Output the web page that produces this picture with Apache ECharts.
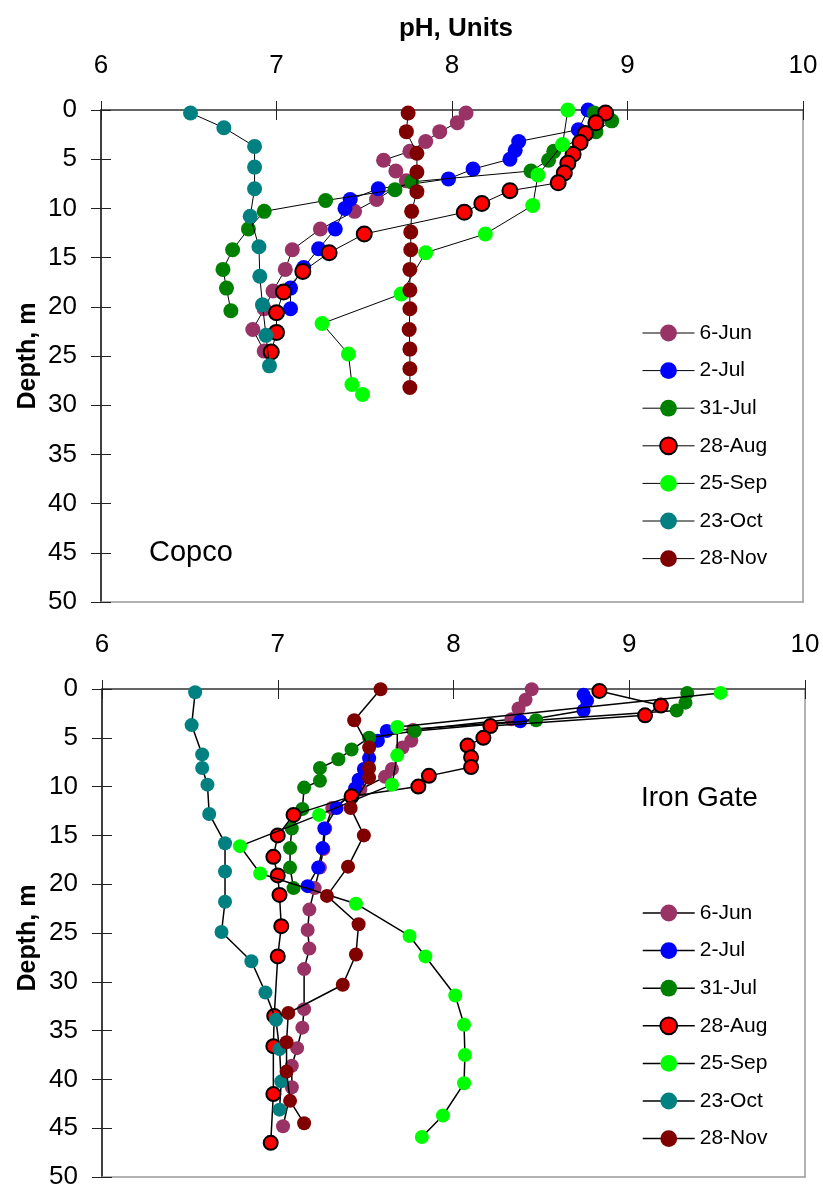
<!DOCTYPE html>
<html>
<head>
<meta charset="utf-8">
<script src="https://cdn.jsdelivr.net/npm/echarts@6/dist/echarts.min.js"></script>
<style>
html,body{margin:0;padding:0;background:#fff;}
#chart{width:823px;height:1190px;}
</style>
</head>
<body>
<div id="chart"></div>
<script>
// ---------- DATA ----------
const seriesNames = ['6-Jun','2-Jul','31-Jul','28-Aug','25-Sep','23-Oct','28-Nov'];
const xTicks = [6,7,8,9,10];
const yTicks = [0,5,10,15,20,25,30,35,40,45,50];

// Copco
const copcoJunDepth = [0.3,1.3,2.2,3.2,4.2,5.1,6.2,7.2,9.1,10.3,12.1,14.2,16.2,18.4,20.2,22.3,24.5];
const copcoJunPH    = [8.08,8.03,7.93,7.85,7.76,7.61,7.68,7.74,7.57,7.445,7.25,7.09,7.05,6.98,6.93,6.865,6.93];
const copcoJul2Depth = [0,2.0,3.2,4.1,5.0,6.0,7.0,8.0,9.1,10.0,12.1,14.1,16.0,18.1,20.2];
const copcoJul2PH    = [8.775,8.72,8.38,8.36,8.33,8.12,7.98,7.58,7.42,7.39,7.335,7.24,7.155,7.08,7.08];
const copcoJul31Depth = [0.3,1.1,2.2,4.2,5.1,6.2,7.3,8.1,9.2,10.3,12.1,14.2,16.2,18.1,20.4];
const copcoJul31PH    = [8.81,8.91,8.82,8.58,8.55,8.45,7.77,7.675,7.28,6.93,6.84,6.75,6.695,6.715,6.74];
const copcoAugDepth = [0.3,1.3,2.4,3.3,4.5,5.4,6.4,7.4,8.2,9.5,10.4,12.6,14.5,16.4,18.5,20.6,22.6,24.6];
const copcoAugPH    = [8.875,8.82,8.76,8.73,8.69,8.66,8.64,8.605,8.33,8.17,8.07,7.50,7.30,7.15,7.04,7.00,7.00,6.97];
const copcoSepDepth = [0,3.5,6.6,9.7,12.6,14.5,18.7,21.7,24.8,27.9,28.9];
const copcoSepPH    = [8.66,8.63,8.49,8.46,8.19,7.85,7.71,7.26,7.41,7.43,7.49];
const copcoOctDepth = [0.3,1.8,3.7,5.8,8.0,10.8,13.9,16.9,19.8,22.9,26.0];
const copcoOctPH    = [6.51,6.70,6.875,6.875,6.875,6.85,6.90,6.905,6.92,6.94,6.96];
const copcoNovDepth = [0.3,2.2,4.4,6.3,8.3,10.3,12.4,14.2,16.2,18.3,20.2,22.3,24.3,26.3,28.2];
const copcoNovPH    = [7.75,7.74,7.80,7.80,7.80,7.77,7.765,7.765,7.76,7.76,7.76,7.756,7.76,7.76,7.76];

// Iron Gate
const igJunDepth = [0.03,1.1,2.0,3.1,4.2,5.3,6.0,8.2,9.0,10.3,12.2,14.3,16.4,18.3,20.4,22.6,24.7,26.6,28.7,32.8,34.7,36.8,38.6,40.8,44.8];
const igJunPH    = [8.445,8.41,8.37,8.33,7.77,7.76,7.71,7.65,7.61,7.47,7.31,7.27,7.26,7.24,7.21,7.18,7.17,7.18,7.15,7.15,7.14,7.11,7.08,7.08,7.03];
const igJul2Depth = [0.6,1.2,2.2,3.3,4.3,5.3,7.1,8.2,9.3,10.2,12.2,14.3,16.3,18.3,20.2];
const igJul2PH    = [8.74,8.76,8.74,8.38,7.62,7.57,7.52,7.49,7.46,7.44,7.335,7.265,7.255,7.23,7.17];
const igJul31Depth = [0.4,1.4,2.2,3.2,4.3,5.0,6.2,7.2,8.1,9.4,10.1,12.3,14.3,16.3,18.3,20.4];
const igJul31PH    = [9.33,9.32,9.27,8.47,7.78,7.52,7.42,7.345,7.24,7.24,7.15,7.14,7.08,7.07,7.07,7.09];
const igAugDepth = [0.2,1.7,2.7,3.8,5.0,5.8,7.0,8.0,8.9,10.0,11.0,12.9,15.0,17.2,19.1,21.1,24.3,27.4,33.5,36.6,41.5,46.5];
const igAugPH    = [8.83,9.18,9.09,8.21,8.17,8.08,8.10,8.10,7.86,7.80,7.42,7.09,7.00,6.975,7.00,7.01,7.02,7.00,6.98,6.975,6.975,6.96];
const igSepDepth = [0.4,3.9,6.8,9.8,12.9,16.1,18.9,22.0,25.3,27.4,31.4,34.4,37.5,40.4,43.7,45.9];
const igSepPH    = [9.52,7.68,7.68,7.65,7.235,6.785,6.90,7.445,7.75,7.84,8.01,8.06,8.065,8.06,7.94,7.82];
const igOctDepth = [0.34,3.7,6.7,8.1,9.8,12.8,15.8,18.7,21.8,24.9,27.9,31.1,33.9,36.9,40.2,43.1];
const igOctPH    = [6.53,6.51,6.57,6.57,6.60,6.61,6.70,6.70,6.70,6.68,6.85,6.93,6.99,7.01,7.02,7.01];
const igNovDepth = [0.03,3.2,6.0,8.1,9.1,12.2,15.0,18.2,21.2,24.1,27.2,30.3,33.2,36.2,39.2,42.2,44.5];
const igNovPH    = [7.585,7.435,7.52,7.52,7.52,7.415,7.49,7.40,7.28,7.46,7.445,7.37,7.06,7.05,7.05,7.07,7.15];

// ---------- STYLE ----------
const FONT = 'Liberation Sans, Arial, sans-serif';
const colors = ['#993366','#0000FF','#008000','#FF0000','#00FF00','#008080','#800000'];

const copcoSets = [
  [copcoJunDepth, copcoJunPH],[copcoJul2Depth, copcoJul2PH],[copcoJul31Depth, copcoJul31PH],
  [copcoAugDepth, copcoAugPH],[copcoSepDepth, copcoSepPH],[copcoOctDepth, copcoOctPH],[copcoNovDepth, copcoNovPH]
];
const igSets = [
  [igJunDepth, igJunPH],[igJul2Depth, igJul2PH],[igJul31Depth, igJul31PH],
  [igAugDepth, igAugPH],[igSepDepth, igSepPH],[igOctDepth, igOctPH],[igNovDepth, igNovPH]
];

function zip(d, p){ return d.map((v,i)=>[p[i], v]); }

const grids = [
  {left:101, top:110, width:702, height:492},
  {left:102, top:689, width:703, height:491}
];

function xAxesFor(g){
  return [
    { gridIndex:g, type:'value', position:'top', min:6, max:10, interval:1,
      axisLine:{show:true, onZero:false, lineStyle:{color:'#333', width:1.5}},
      axisTick:{show:true, inside:false, length:9, lineStyle:{color:'#222', width:1}},
      axisLabel:{show:true, fontFamily:FONT, fontSize:26, color:'#000', margin:31},
      splitLine:{show:false} },
    { gridIndex:g, type:'value', position:'top', min:6, max:10, interval:1,
      axisLine:{show:false}, axisTick:{show:true, inside:true, length:10, lineStyle:{color:'#222', width:1}},
      axisLabel:{show:false}, splitLine:{show:false} },
    { gridIndex:g, type:'value', position:'bottom', min:6, max:10,
      axisLine:{show:true, onZero:false, lineStyle:{color:'#999', width:1.5}},
      axisTick:{show:false}, axisLabel:{show:false}, splitLine:{show:false} }
  ];
}
function yAxesFor(g){
  return [
    { gridIndex:g, type:'value', position:'left', inverse:true, min:0, max:50, interval:5,
      axisLine:{show:true, onZero:false, lineStyle:{color:'#000', width:1.5}},
      axisTick:{show:true, inside:false, length:10, lineStyle:{color:'#222', width:1}},
      axisLabel:{show:true, fontFamily:FONT, fontSize:26, color:'#000', margin:24},
      splitLine:{show:false} },
    { gridIndex:g, type:'value', position:'left', inverse:true, min:0, max:50, interval:5,
      axisLine:{show:false}, axisTick:{show:true, inside:true, length:10, lineStyle:{color:'#222', width:1}},
      axisLabel:{show:false}, splitLine:{show:false} },
    { gridIndex:g, type:'value', position:'right', inverse:true, min:0, max:50,
      axisLine:{show:true, onZero:false, lineStyle:{color:'#999', width:1.5}},
      axisTick:{show:false}, axisLabel:{show:false}, splitLine:{show:false} }
  ];
}

function buildSeries(sets, g, lineW, symSize){
  return sets.map((s,i)=>({
    name: seriesNames[i],
    type:'line',
    xAxisIndex: g*3, yAxisIndex: g*3,
    data: zip(s[0], s[1]),
    symbol:'circle',
    symbolSize: symSize,
    showAllSymbol:true,
    animation:false,
    lineStyle:{color:'#000', width:lineW},
    itemStyle:{color:colors[i], borderColor: i===3 ? '#000' : colors[i], borderWidth: i===3 ? 2 : 0, opacity:1},
    emphasis:{disabled:true},
    z: 2 + i
  }));
}

function legendAt(top, lineW){
  return {
    left:642, top:top, orient:'vertical', padding:0,
    itemWidth:52, itemHeight:21, itemGap:15.6,
    data: seriesNames,
    textStyle:{fontFamily:FONT, fontSize:21, color:'#000', lineHeight:22},
    lineStyle:{color:'#000', width:lineW},
    selectedMode:false
  };
}

const option = {
  backgroundColor:'#fff',
  animation:false,
  grid: grids,
  xAxis: xAxesFor(0).concat(xAxesFor(1)),
  yAxis: yAxesFor(0).concat(yAxesFor(1)),
  legend: [legendAt(322, 1), legendAt(902, 1.5)],
  series: buildSeries(copcoSets, 0, 1, 15).concat(buildSeries(igSets, 1, 1.5, 14)),
  graphic: [
    {type:'text', x:456, y:29, style:{text:'pH, Units', fontFamily:FONT, fontSize:26, fontWeight:'bold', fill:'#000', align:'center', verticalAlign:'middle'}},
    {type:'text', x:28, y:356, rotation:Math.PI/2, style:{text:'Depth, m', fontFamily:FONT, fontSize:25, fontWeight:'bold', fill:'#000', align:'center', verticalAlign:'middle'}},
    {type:'text', x:28, y:938, rotation:Math.PI/2, style:{text:'Depth, m', fontFamily:FONT, fontSize:25, fontWeight:'bold', fill:'#000', align:'center', verticalAlign:'middle'}},
    {type:'text', x:149, y:553, style:{text:'Copco', fontFamily:FONT, fontSize:29, fill:'#000', align:'left', verticalAlign:'middle'}},
    {type:'text', x:641, y:798, style:{text:'Iron Gate', fontFamily:FONT, fontSize:28, fill:'#000', align:'left', verticalAlign:'middle'}}
  ]
};

const chart = echarts.init(document.getElementById('chart'), null, {renderer:'canvas'});
chart.setOption(option);
</script>
</body>
</html>
